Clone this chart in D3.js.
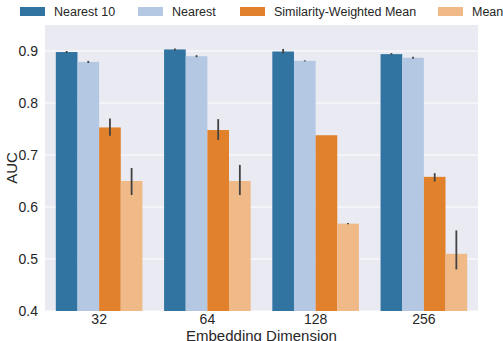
<!DOCTYPE html>
<html>
<head>
<meta charset="utf-8">
<script src="https://cdn.jsdelivr.net/npm/d3@7"></script>
<style>
  body { margin: 0; background: #fff; }
  text { font-family: "Liberation Sans", Arial, sans-serif; fill: #262626; }
</style>
</head>
<body>
<script>
var dimensions = ["32", "64", "128", "256"];
var methods = ["Nearest 10", "Nearest", "Similarity-Weighted Mean", "Mean"];
var colors = ["#3274a1", "#b4c8e3", "#e1812c", "#efba88"];

// mean AUC per method, per dimension
var nearest10 = [0.898, 0.903, 0.899, 0.894];
var nearest   = [0.879, 0.890, 0.881, 0.887];
var simMean   = [0.753, 0.748, 0.738, 0.658];
var meanVals  = [0.650, 0.650, 0.568, 0.510];

// error bar low / high
var nearest10Lo = [0.896, 0.901, 0.895, 0.893];
var nearest10Hi = [0.900, 0.905, 0.904, 0.896];
var nearestLo   = [0.877, 0.888, 0.880, 0.885];
var nearestHi   = [0.881, 0.892, 0.882, 0.889];
var simMeanLo   = [0.737, 0.729, 0.738, 0.649];
var simMeanHi   = [0.770, 0.769, 0.738, 0.665];
var meanLo      = [0.623, 0.623, 0.567, 0.480];
var meanHi      = [0.675, 0.681, 0.569, 0.555];

var yTicks = [0.4, 0.5, 0.6, 0.7, 0.8, 0.9];

var values = [nearest10, nearest, simMean, meanVals];
var lows = [nearest10Lo, nearestLo, simMeanLo, meanLo];
var highs = [nearest10Hi, nearestHi, simMeanHi, meanHi];

var W = 503, H = 341;
var margin = {top: 25, right: 25, bottom: 30, left: 45};
var width = W - margin.left - margin.right,
	height = H - margin.top - margin.bottom;

var svg = d3.select("body").append("svg")
	.attr("width", W)
	.attr("height", H);

var g = svg.append("g")
	.attr("transform", "translate(" + margin.left + "," + margin.top + ")");

g.append("rect")
	.attr("width", width)
	.attr("height", height)
	.attr("fill", "#eaeaf2");

var x = d3.scaleBand().domain(dimensions).range([0, width]).paddingInner(0.2).paddingOuter(0.1);
var xSub = d3.scaleBand().domain(methods).range([0, x.bandwidth()]);
var y = d3.scaleLinear().domain([0.4, 0.95]).range([height, 0]);

// grid
g.selectAll(".grid")
	.data(yTicks)
  .enter().append("line")
	.attr("x1", 0).attr("x2", width)
	.attr("y1", function(d) { return y(d); })
	.attr("y2", function(d) { return y(d); })
	.attr("stroke", "#fff")
	.attr("stroke-width", 1);

// bars
var rows = [];
methods.forEach(function(m, mi) {
	dimensions.forEach(function(dim, di) {
		rows.push({m: m, mi: mi, dim: dim, v: values[mi][di], lo: lows[mi][di], hi: highs[mi][di]});
	});
});

g.selectAll(".bar")
	.data(rows)
  .enter().append("rect")
	.attr("x", function(d) { return x(d.dim) + xSub(d.m); })
	.attr("y", function(d) { return y(d.v); })
	.attr("width", xSub.bandwidth())
	.attr("height", function(d) { return height - y(d.v); })
	.attr("fill", function(d) { return colors[d.mi]; });

g.selectAll(".err")
	.data(rows)
  .enter().append("line")
	.attr("x1", function(d) { return x(d.dim) + xSub(d.m) + xSub.bandwidth() / 2; })
	.attr("x2", function(d) { return x(d.dim) + xSub(d.m) + xSub.bandwidth() / 2; })
	.attr("y1", function(d) { return y(d.lo); })
	.attr("y2", function(d) { return y(d.hi); })
	.attr("stroke", "#424242")
	.attr("stroke-width", 1.8);

// axes
var yAxis = g.append("g")
	.call(d3.axisLeft(y).tickValues(yTicks).tickSize(0).tickPadding(7).tickFormat(d3.format(".1f")));
yAxis.select(".domain").remove();
yAxis.selectAll("text").style("font-size", "14px").attr("fill", "#262626");

var xAxis = g.append("g")
	.attr("transform", "translate(0," + height + ")")
	.call(d3.axisBottom(x).tickSize(0).tickPadding(3));
xAxis.select(".domain").remove();
xAxis.selectAll("text").style("font-size", "14px").attr("fill", "#262626");

svg.append("text")
	.attr("transform", "translate(17," + (margin.top + height / 2) + ") rotate(-90)")
	.attr("text-anchor", "middle")
	.style("font-size", "15px")
	.text("AUC");

svg.append("text")
	.attr("x", margin.left + width / 2)
	.attr("y", 341)
	.attr("text-anchor", "middle")
	.style("font-size", "15px")
	.text("Embedding Dimension");

// legend
var legendX = [20, 138, 240, 438];
var legend = svg.selectAll(".legend")
	.data(methods)
  .enter().append("g")
	.attr("transform", function(d, i) { return "translate(" + legendX[i] + ",7)"; });

legend.append("rect")
	.attr("width", 25)
	.attr("height", 9)
	.attr("fill", function(d, i) { return colors[i]; });

legend.append("text")
	.attr("x", 34)
	.attr("y", 9)
	.style("font-size", "12.5px")
	.text(function(d) { return d; });
</script>
</body>
</html>
